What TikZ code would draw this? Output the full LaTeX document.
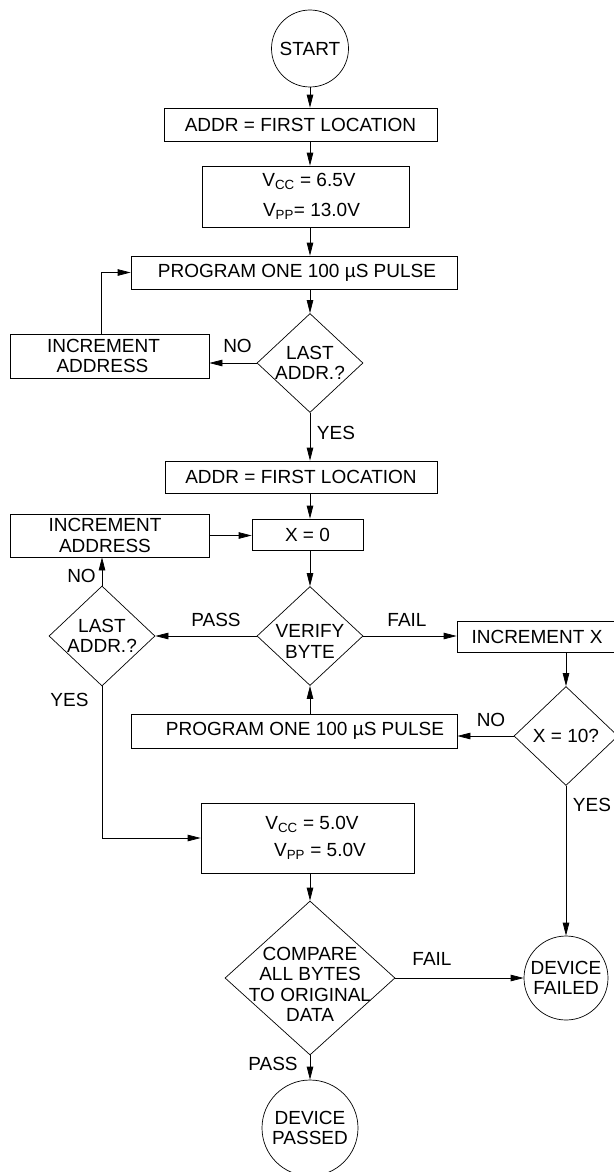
\documentclass[tikz,border=0pt]{standalone}
\usepackage{fontspec}
\setmainfont{Liberation Sans}
\usepackage{tikz}
\usetikzlibrary{arrows.meta,shapes.geometric,calc}
\newcommand{\fl}{\fontsize{19}{20.5}\selectfont}
\newcommand{\dn}[1]{\rule{0pt}{#1}}
\tikzset{
  box/.style={rectangle, draw=black, line width=0.7pt, inner sep=0pt, align=center, font=\fl},
  decision/.style={diamond, draw=black, line width=0.7pt, inner sep=-10pt, align=center, font=\fl},
  term/.style={circle, draw=black, line width=0.7pt, inner sep=0pt, align=center, font=\fl},
  lbl/.style={font=\fl, inner sep=0pt},
  flow/.style={-{Triangle[length=13pt,width=6.5pt]}, draw=black, line width=0.7pt},
}
\begin{document}
\begin{tikzpicture}[x=1pt,y=-1pt]
\useasboundingbox[fill=white] (0,0) rectangle (613,1172);
\coordinate (ax) at (310,0);
\node[term, minimum size=77] (start) at (310,48.5) {START};
\node[box, minimum width=273, minimum height=33] (addr1) at (300.5,124.5) {ADDR = FIRST LOCATION};
\node[box, minimum width=207, minimum height=61] (vcc1) at (305.5,196.5)
 {\hspace*{7pt}V\textsubscript{CC} = 6.5V\\[9.5pt] \hspace*{12pt}V\textsubscript{PP}= 13.0V};
\node[box, minimum width=326, minimum height=33] (pulse1) at (294,272.5) {\hspace*{6pt}PROGRAM ONE 100 µS PULSE};
\node[decision, minimum width=106, minimum height=99] (last1) at (310,363) {LAST\\ADDR.?};
\node[box, minimum width=199, minimum height=44] (inca1) at (109.5,356) {INCREMENT\hspace*{12pt}\\ADDRESS\hspace*{14pt}};
\node[box, minimum width=272, minimum height=32] (addr2) at (301,477) {ADDR = FIRST LOCATION};
\node[box, minimum width=111, minimum height=31] (xzero) at (307.5,534.5) {X = 0};
\node[box, minimum width=199, minimum height=43] (inca2) at (109.5,535.5) {INCREMENT\hspace*{9pt}\\ADDRESS\hspace*{9pt}};
\node[decision, minimum width=106, minimum height=99] (verify) at (310,636) {\dn{23.5pt}VERIFY\\BYTE};
\node[decision, minimum width=106, minimum height=100] (last2) at (102,636) {LAST\\ADDR.?};
\node[box, minimum width=160, minimum height=31] (incx) at (537,636.5) {INCREMENT X};
\node[decision, minimum width=104, minimum height=99] (xten) at (566,736) {X = 10?};
\node[box, minimum width=326, minimum height=34] (pulse2) at (294,731) {\hspace*{22pt}PROGRAM ONE 100 µS PULSE};
\node[box, minimum width=213, minimum height=70] (vcc2) at (307.5,838)
 {\hspace*{9pt}V\textsubscript{CC} = 5.0V\\[6.5pt] \hspace*{25pt}V\textsubscript{PP} = 5.0V};
\node[decision, inner sep=-16pt, minimum width=170, minimum height=154] (cmp) at (310,978)
 {\dn{25.5pt}COMPARE\\ALL BYTES\\TO ORIGINAL\\DATA};
\node[term, minimum size=84] (failed) at (566,978) {DEVICE\\FAILED};
\node[term, minimum size=96] (passed) at (310,1128) {DEVICE\\PASSED};

\draw[flow] (start) -- (ax |- addr1.north);
\draw[flow] (ax |- addr1.south) -- (ax |- vcc1.north);
\draw[flow] (ax |- vcc1.south) -- (ax |- pulse1.north);
\draw[flow] (ax |- pulse1.south) -- (last1.north);
\draw[flow] (last1.west) -- (last1.west -| inca1.east);
\draw[flow] ([xshift=-8.5pt]inca1.north) |- (pulse1.west);
\draw[flow] (last1.south) -- (ax |- addr2.north);
\draw[flow] (ax |- addr2.south) -- (ax |- xzero.north);
\draw[flow] (inca2.east) -- (inca2.east -| xzero.west);
\draw[flow] (ax |- xzero.south) -- (verify.north);
\draw[flow] (verify.west) -- (last2.east);
\draw[flow] (verify.east) -- (verify.east -| incx.west);
\draw[flow] (xten.north |- incx.south) -- (xten.north);
\draw[flow] (xten.west) -- (xten.west -| pulse2.east);
\draw[flow] (verify.south |- pulse2.north) -- (verify.south);
\draw[flow] (last2.north) -- (last2.north |- inca2.south);
\draw[flow] (last2.south) |- (vcc2.west);
\draw[flow] (ax |- vcc2.south) -- (cmp.north);
\draw[flow] (cmp.east) -- (failed.west);
\draw[flow] (xten.south) -- (failed.north);
\draw[flow] (cmp.south) -- (passed.north);

\node[lbl] (no1) at (237.5,346) {NO};
\node[lbl] (yes1) at (336,433) {YES};
\node[lbl] (no2) at (81.5,576) {NO};
\node[lbl] (pass1) at (216,620) {PASS};
\node[lbl] (fail1) at (407,620) {FAIL};
\node[lbl] (yes2) at (69.5,700) {YES};
\node[lbl] (no3) at (491,720) {NO};
\node[lbl] (yes3) at (592,805) {YES};
\node[lbl] (fail2) at (432,959) {FAIL};
\node[lbl] (pass2) at (273,1064) {PASS};
\end{tikzpicture}
\end{document}
